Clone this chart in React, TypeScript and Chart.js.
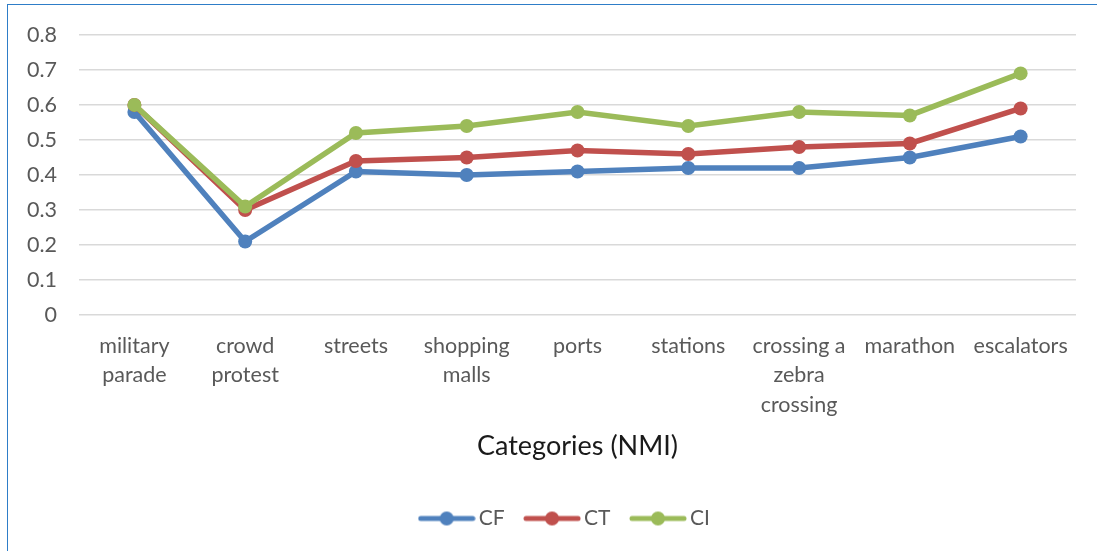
import React, { useEffect, useRef } from "react";
import { Chart, registerables } from "chart.js";

Chart.register(...registerables);

// Category labels (split into lines as shown under the axis)
const categories: (string | string[])[] = [
  ["military", "parade"],
  ["crowd", "protest"],
  "streets",
  ["shopping", "malls"],
  "ports",
  "stations",
  ["crossing a", "zebra", "crossing"],
  "marathon",
  "escalators",
];

const seriesNames = ["CF", "CT", "CI"];
const cfValues = [0.58, 0.21, 0.41, 0.4, 0.41, 0.42, 0.42, 0.45, 0.51];
const ctValues = [0.6, 0.3, 0.44, 0.45, 0.47, 0.46, 0.48, 0.49, 0.59];
const ciValues = [0.6, 0.31, 0.52, 0.54, 0.58, 0.54, 0.58, 0.57, 0.69];
const seriesColors = ["#4F81BD", "#C0504D", "#9BBB59"];

const yMin = 0;
const yMax = 0.8;
const yStep = 0.1;
const xAxisTitle = "Categories (NMI)";

const FONT = "Lato, 'Open Sans', sans-serif";
const TICK_COLOR = "#595959";

// Legend swatch: a short thick line with a round marker in the middle
function makeSwatch(color: string): HTMLCanvasElement {
  const c = document.createElement("canvas");
  c.width = 58;
  c.height = 16;
  const ctx = c.getContext("2d")!;
  ctx.strokeStyle = color;
  ctx.lineWidth = 5;
  ctx.lineCap = "round";
  ctx.beginPath();
  ctx.moveTo(3, 8);
  ctx.lineTo(55, 8);
  ctx.stroke();
  ctx.fillStyle = color;
  ctx.beginPath();
  ctx.arc(29, 8, 7, 0, Math.PI * 2);
  ctx.fill();
  return c;
}

// Nudges the legend row slightly right of the page centre
const legendShift = {
  id: "legendShift",
  afterLayout(chart: any) {
    if (chart.legend) {
      chart.legend.left += 20;
      chart.legend.right += 20;
    }
  },
};

export default function App() {
  const canvasRef = useRef<HTMLCanvasElement | null>(null);

  useEffect(() => {
    if (!canvasRef.current) return;
    const values = [cfValues, ctValues, ciValues];
    const swatches = seriesColors.map(makeSwatch);

    const chart = new Chart(canvasRef.current, {
      type: "line",
      data: {
        labels: categories,
        datasets: seriesNames.map((name, i) => ({
          label: name,
          data: values[i],
          borderColor: seriesColors[i],
          backgroundColor: seriesColors[i],
          borderWidth: 5.5,
          pointRadius: 7,
          pointHoverRadius: 7,
          pointBorderWidth: 0,
          pointBackgroundColor: seriesColors[i],
          tension: 0,
          fill: false,
          // CI drawn on top, CF at the bottom
          order: seriesNames.length - i,
        })),
      },
      options: {
        responsive: false,
        animation: false,
        layout: { padding: { left: 19, right: 21, top: 34, bottom: 12 } },
        scales: {
          x: {
            offset: true,
            grid: { display: false, drawTicks: false },
            border: { display: false },
            ticks: {
              color: TICK_COLOR,
              font: { family: FONT, size: 21.5, lineHeight: 1.35 },
              maxRotation: 0,
              minRotation: 0,
              autoSkip: false,
              padding: 17,
            },
            title: {
              display: true,
              text: xAxisTitle,
              color: "#1a1a1a",
              font: { family: FONT, size: 27 },
              padding: { top: 0, bottom: 20 },
            },
            afterFit: (s: any) => {
              s.height = 167;
            },
          },
          y: {
            min: yMin,
            max: yMax,
            grid: { color: "#D9D9D9", lineWidth: 1.5, drawTicks: false },
            border: { display: false },
            ticks: {
              stepSize: yStep,
              color: TICK_COLOR,
              font: { family: FONT, size: 21.5 },
              padding: 22,
            },
            afterFit: (s: any) => {
              s.width = 60;
            },
          },
        },
        plugins: {
          tooltip: { enabled: false },
          legend: {
            position: "bottom",
            labels: {
              usePointStyle: true,
              pointStyleWidth: 43,
              boxHeight: 16,
              padding: 26,
              color: TICK_COLOR,
              font: { family: FONT, size: 21 },
              generateLabels: (ch: any) => {
                const items = Chart.defaults.plugins.legend.labels.generateLabels(ch);
                items.sort((a: any, b: any) => a.datasetIndex - b.datasetIndex);
                return items.map((it: any) => ({
                  ...it,
                  pointStyle: swatches[it.datasetIndex],
                }));
              },
            },
          },
        },
      },
      plugins: [legendShift],
    });
    return () => chart.destroy();
  }, []);

  return (
    <div style={{ position: "fixed", inset: 0, overflow: "hidden", background: "#fff" }}>
      <div
        style={{
          position: "absolute",
          left: 7,
          top: 4,
          width: 1300,
          height: 800,
          border: "1.5px solid #2E7DC8",
        }}
      />
      <canvas
        ref={canvasRef}
        width={1097}
        height={551}
        style={{ position: "absolute", left: 0, top: 0 }}
      />
    </div>
  );
}
